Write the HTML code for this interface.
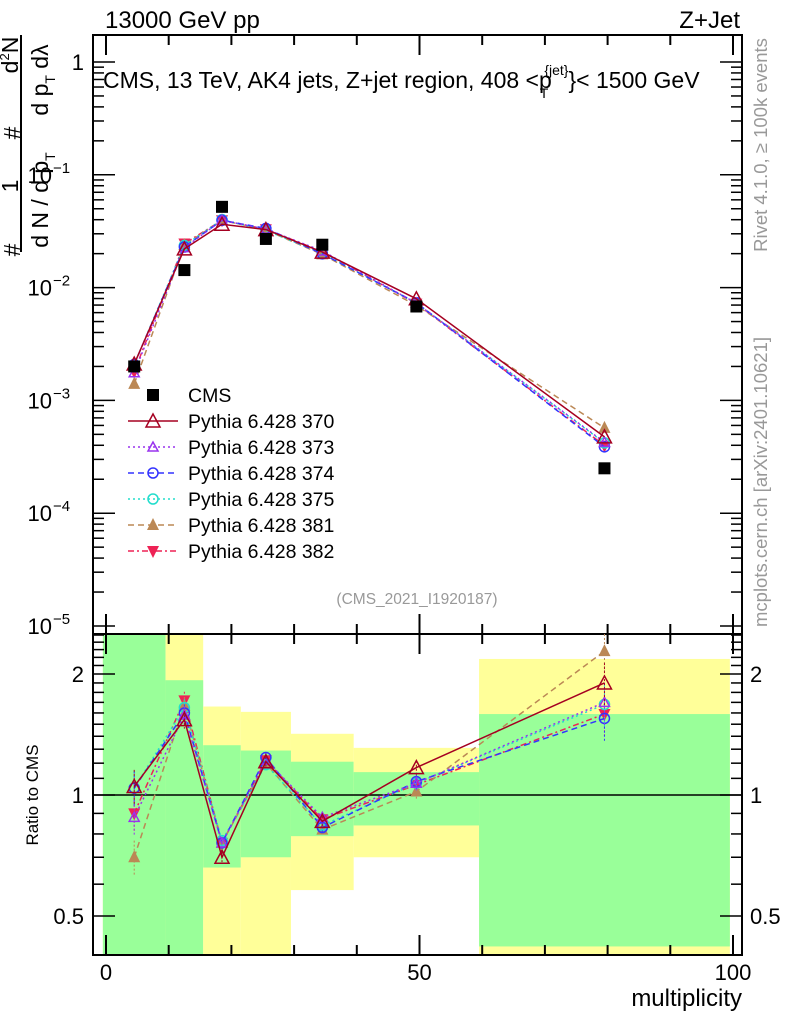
<!DOCTYPE html>
<html><head><meta charset="utf-8"><style>
html,body{margin:0;padding:0;background:#fff}
svg{display:block;font-family:"Liberation Sans",sans-serif}
</style></head><body>
<svg id="chart" width="786" height="1024" viewBox="0 0 786 1024" xmlns="http://www.w3.org/2000/svg">
<g id="bands"></g>
<g id="grid"></g>
<g id="series"></g>
<text x="105" y="28" font-size="24">13000 GeV pp</text>
<text x="740" y="28" font-size="24" text-anchor="end">Z+Jet</text>
<text x="103" y="88" font-size="23">CMS, 13 TeV, AK4 jets, Z+jet region, 408 &lt;p<tspan font-size="14" dx="-12" dy="10">T</tspan><tspan font-size="14" dx="-4" dy="-23">{jet}</tspan><tspan dy="13">}&lt; 1500 GeV</tspan></text>
<text x="417" y="604" font-size="15.5" fill="#999" text-anchor="middle">(CMS_2021_I1920187)</text>
<text transform="translate(767,145) rotate(-90)" font-size="18.5" fill="#999" text-anchor="middle">Rivet 4.1.0, ≥ 100k events</text>
<text transform="translate(767,482) rotate(-90)" font-size="18.5" fill="#999" text-anchor="middle">mcplots.cern.ch [arXiv:2401.10621]</text>
<text transform="translate(38,795) rotate(-90)" font-size="17" text-anchor="middle">Ratio to CMS</text>
<text x="742" y="1006" font-size="24" text-anchor="end">multiplicity</text>
<g font-size="23">
<line x1="21" y1="35" x2="21" y2="252" stroke="#000" stroke-width="2"/>
<text transform="translate(18,55) rotate(-90)" text-anchor="middle">d<tspan font-size="13" dy="-9">2</tspan><tspan dy="9">N</tspan></text>
<text transform="translate(48,80) rotate(-90)" text-anchor="middle">d p<tspan font-size="14" dy="7">T</tspan><tspan dy="-7"> dλ</tspan></text>
<text transform="translate(20,133) rotate(-90)" text-anchor="middle">#</text>
<text transform="translate(18,186) rotate(-90)" text-anchor="middle">1</text>
<text transform="translate(48,200) rotate(-90)" text-anchor="middle">d N / d p<tspan font-size="14" dy="7">T</tspan></text>
<text transform="translate(20,250) rotate(-90)" text-anchor="middle">#</text>
</g>
<g id="legend"></g>
</svg>
<script>
const binEdges=[-0.5,9.5,15.5,21.5,29.5,39.5,59.5,99.5];
const binCenters=[4.5,12.5,18.5,25.5,34.5,49.5,79.5];
const cmsValues=[0.0020,0.0143,0.052,0.027,0.024,0.0068,0.00025];
const greenLo=[0.3,0.3,0.66,0.70,0.79,0.84,0.42];
const greenHi=[3,1.93,1.33,1.29,1.21,1.14,1.59];
const yellowLo=[0.3,0.3,0.3,0.3,0.58,0.70,0.3];
const yellowHi=[3,3,1.66,1.61,1.42,1.31,2.18];
const ratio370=[1.05,1.54,0.70,1.21,0.86,1.17,1.90];
const ratio373=[0.88,1.58,0.76,1.22,0.88,1.07,1.70];
const ratio374=[1.04,1.60,0.76,1.24,0.83,1.08,1.55];
const ratio375=[1.04,1.65,0.77,1.19,0.84,1.07,1.68];
const ratio381=[0.70,1.67,0.76,1.20,0.82,1.02,2.28];
const ratio382=[0.90,1.72,0.76,1.22,0.87,1.06,1.59];
const ratioErr=[0.1,0.05,0.03,0.03,0.03,0.04,0.12];
const mainTickLabels=["1","10","10","10","10","10"];
const ratioTickLabels=["0.5","1","2"];
const xTickLabels=["0","50","100"];

const NS="http://www.w3.org/2000/svg";
const L=93,R=742,T=35,M=634,B=955;
const xs=v=>106+6.27*v;
const ym=v=>62-112.8*Math.log10(v);
const yr=r=>Math.min(B,Math.max(M,795-121*Math.log2(r)));
function mk(tag,attrs,parent){const e=document.createElementNS(NS,tag);for(const k in attrs)e.setAttribute(k,attrs[k]);parent.appendChild(e);return e;}
const bands=document.getElementById('bands'),grid=document.getElementById('grid'),ser=document.getElementById('series'),leg=document.getElementById('legend');

for(let i=0;i<binCenters.length;i++){
  const x1=xs(binEdges[i]),x2=xs(binEdges[i+1]);
  const y=mk('rect',{x:x1,y:yr(yellowHi[i]),width:x2-x1,height:yr(yellowLo[i])-yr(yellowHi[i]),fill:'#ffff99'},bands);
  
  
  const g=mk('rect',{x:x1,y:yr(greenHi[i]),width:x2-x1,height:yr(greenLo[i])-yr(greenHi[i]),fill:'#99ff99'},bands);
  
  
}
mk('rect',{x:L,y:T,width:R-L,height:M-T,fill:'none',stroke:'#000','stroke-width':2},grid);
mk('rect',{x:L,y:M,width:R-L,height:B-M,fill:'none',stroke:'#000','stroke-width':2},grid);
mk('line',{x1:L,y1:795,x2:R,y2:795,stroke:'#000','stroke-width':1.5},grid);
for(let v=0;v<=100;v+=10){
  const x=xs(v),big=v%50===0,len=big?20:10;
  [[T,1],[M,-1],[M,1],[B,-1]].forEach(([y0,d])=>mk('line',{x1:x,y1:y0,x2:x,y2:y0+d*len,stroke:'#000','stroke-width':2},grid));
}
xTickLabels.forEach((s,i)=>{const t=mk('text',{x:xs(i*50),y:980,'font-size':22,'text-anchor':'middle'},grid);t.textContent=s;

});
for(let e=0;e>=-5;e--){
  for(let m=1;m<10;m++){
    const v=m*Math.pow(10,e),y=ym(v);
    if(y<T||y>M)continue;
    const len=m===1?22:11;
    mk('line',{x1:L,y1:y,x2:L+len,y2:y,stroke:'#000','stroke-width':1.5},grid);
    mk('line',{x1:R,y1:y,x2:R-len,y2:y,stroke:'#000','stroke-width':1.5},grid);
  }
  const y0=ym(Math.pow(10,e))+8;
  if(e===0){
    const t=mk('text',{x:84,y:y0,'font-size':22,'text-anchor':'end'},grid);t.textContent=mainTickLabels[0];
    
    
  } else {
    const t=mk('text',{x:52,y:y0,'font-size':22,'text-anchor':'end'},grid);t.textContent=mainTickLabels[-e];
    
    
    const s=mk('text',{x:53,y:y0-10,'font-size':15},grid);s.textContent='−'+(-e);
    
    
  }
}
for(let r=0.4;r<=2.55;r+=0.1){
  const rr=Math.round(r*10)/10,y=795-121*Math.log2(rr);if(y<M||y>B)continue;
  const big=(rr===0.5||rr===1||rr===2),len=big?22:11;
  mk('line',{x1:L,y1:y,x2:L+len,y2:y,stroke:'#000','stroke-width':1.5},grid);
  mk('line',{x1:R,y1:y,x2:R-len,y2:y,stroke:'#000','stroke-width':1.5},grid);
}
[0.5,1,2].forEach((r,i)=>{
  const a=mk('text',{x:84,y:yr(r)+8,'font-size':22,'text-anchor':'end'},grid);a.textContent=ratioTickLabels[i];
  
  
  const b=mk('text',{x:750,y:yr(r)+8,'font-size':22},grid);b.textContent=ratioTickLabels[i];
  
  
});

function marker(type,color,x,y,p){
  if(type==='sq') return mk('rect',{x:x-6,y:y-6,width:12,height:12,fill:'#000'},p);
  if(type==='tri') return mk('polygon',{points:`${x},${y-7} ${x-7},${y+6} ${x+7},${y+6}`,fill:'none',stroke:color,'stroke-width':1.5},p);
  if(type==='tris') return mk('polygon',{points:`${x},${y-5} ${x-5},${y+4} ${x+5},${y+4}`,fill:'none',stroke:color,'stroke-width':1.5},p);
  if(type==='circ') return mk('circle',{cx:x,cy:y,r:5,fill:'none',stroke:color,'stroke-width':1.5},p);
  if(type==='trif') return mk('polygon',{points:`${x},${y-7} ${x-6},${y+5} ${x+6},${y+5}`,fill:color},p);
  if(type==='trid') return mk('polygon',{points:`${x},${y+7} ${x-6},${y-5} ${x+6},${y-5}`,fill:color},p);
}
const seriesDefs=[
 {name:'370',data:ratio370,color:'#a50021',dash:'',type:'tri'},
 {name:'373',data:ratio373,color:'#9933ee',dash:'2,3',type:'tris'},
 {name:'374',data:ratio374,color:'#3333ff',dash:'6,4',type:'circ'},
 {name:'375',data:ratio375,color:'#22ddcc',dash:'2,3',type:'circ'},
 {name:'381',data:ratio381,color:'#bb8855',dash:'6,4',type:'trif'},
 {name:'382',data:ratio382,color:'#ee2255',dash:'6,3,2,3',type:'trid'}
];
seriesDefs.slice().reverse().forEach(s=>{
  const g=mk('g',{},ser);
  
  
  const mainPts=binCenters.map((c,i)=>[xs(c),ym(cmsValues[i]*s.data[i])]);
  const ratPts=binCenters.map((c,i)=>[xs(c),yr(s.data[i])]);
  [mainPts,ratPts].forEach((pts,k)=>{
    mk('polyline',{points:pts.map(p=>p.join(',')).join(' '),fill:'none',stroke:s.color,'stroke-width':1.5,'stroke-dasharray':s.dash},g);
    pts.forEach((p,i)=>{
      if(k===1){mk('line',{x1:p[0],y1:yr(s.data[i]*(1+ratioErr[i])),x2:p[0],y2:yr(s.data[i]*(1-ratioErr[i])),stroke:s.color,'stroke-width':1,'stroke-dasharray':'2,2'},g);}
      const m=marker(s.type,s.color,p[0],p[1],g);
      
      
    });
  });
});
cmsValues.forEach((v,i)=>{
  const m=marker('sq','#000',xs(binCenters[i]),ym(v),ser);
  
  
});
const legY=[395,421,447,473,499,525,551];
const lm=marker('sq','#000',153,legY[0],leg);


const lt=mk('text',{x:188,y:legY[0]+7,'font-size':19.5},leg);lt.textContent='CMS';


seriesDefs.forEach((s,i)=>{
  const y=legY[i+1];
  mk('line',{x1:128,y1:y,x2:178,y2:y,stroke:s.color,'stroke-width':1.5,'stroke-dasharray':s.dash},leg);
  const m=marker(s.type,s.color,153,y,leg);
  
  
  const t=mk('text',{x:188,y:y+7,'font-size':19.5},leg);t.textContent='Pythia 6.428 '+s.name;
  
  
});
</script>
</body></html>
